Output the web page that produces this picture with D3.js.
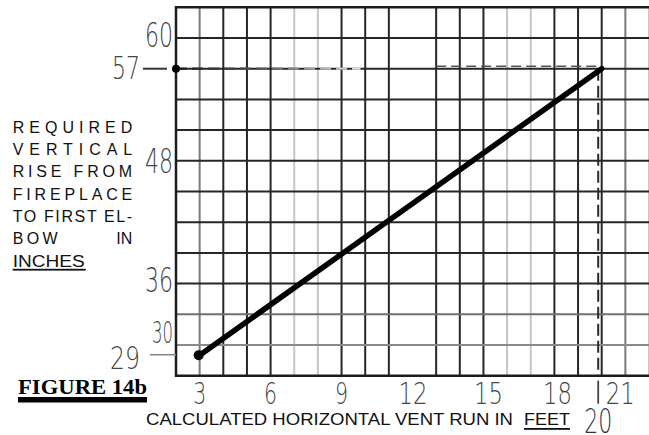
<!DOCTYPE html>
<html>
<head>
<meta charset="utf-8">
<script src="https://cdn.jsdelivr.net/npm/d3@7"></script>
<style>
  html, body { margin: 0; padding: 0; background: #fff; }
  svg { display: block; }
</style>
</head>
<body>
<svg id="chart" width="649" height="435"></svg>
<script>
// ---------------- DATA ----------------
const xTickLabels = [3, 6, 9, 12, 15, 18, 21];
const xGridValues = [3, 4, 5, 6, 7, 8, 9, 10, 11, 13, 14, 15, 16, 17, 18, 19, 20, 21, 22];
const yGridValues = [30, 33, 36, 39, 42, 45, 48, 51, 54, 57, 60];
const yTickLabels = [60, 57, 48, 36, 30, 29];
const curveX = [3, 20];          // feet
const curveY = [29, 57];         // inches
const markerX = 20;              // highlighted run
const markerY = 57;              // highlighted rise
const yTitleLines = ["REQUIRED", "VERTICAL", "RISE FROM", "FIREPLACE", "TO FIRST EL-"];
const xTitle = "CALCULATED HORIZONTAL VENT RUN IN";
const xTitleUnit = "FEET";
const figureLabel = "FIGURE 14b";

// ---------------- LAYOUT / STYLE ----------------
const svg = d3.select("#chart");
const x = d3.scaleLinear().domain([2, 22]).range([176, 649]);
const y = d3.scaleLinear().domain([27, 63]).range([375.7, 7.3]);

const DARK = "#262626", MID = "#7a7a7a", LIGHT = "#c6c6c6";
const vTone = v => (v === 3 || v === 21) ? MID : (v === 7 || v === 8 || v === 16 || v === 17 || v === 22) ? LIGHT : DARK;
const hTone = v => (v === 33) ? "#6f6f6f" : (v === 30) ? "#8a8a8a" : DARK;

const numFont = "'DejaVu Sans', sans-serif";

// grid
svg.append("g").selectAll("line").data(xGridValues).join("line")
  .attr("x1", d => x(d)).attr("x2", d => x(d))
  .attr("y1", y(63)).attr("y2", y(27) + 1)
  .attr("stroke", vTone).attr("stroke-width", 2);

svg.append("g").selectAll("line").data(yGridValues).join("line")
  .attr("x1", x(2)).attr("x2", x(22))
  .attr("y1", d => y(d)).attr("y2", d => y(d))
  .attr("stroke", hTone).attr("stroke-width", 2);

// frame (left, top, bottom)
svg.append("path")
  .attr("d", `M${x(22)},${y(63)} L${x(2)},${y(63)} L${x(2)},${y(27)} L${x(22)},${y(27)}`)
  .attr("fill", "none").attr("stroke", "#1c1c1c").attr("stroke-width", 2.5);

// dashed guides
const defs = svg.append("defs");
const grad = defs.append("linearGradient").attr("id", "fade")
  .attr("gradientUnits", "userSpaceOnUse")
  .attr("x1", x(2)).attr("x2", x(9.8)).attr("y1", 0).attr("y2", 0);
grad.append("stop").attr("offset", "0").attr("stop-color", "#1a1a1a");
grad.append("stop").attr("offset", "0.45").attr("stop-color", "#555");
grad.append("stop").attr("offset", "1").attr("stop-color", "#e4e4e4");

svg.append("line")
  .attr("x1", x(2)).attr("x2", x(9.8))
  .attr("y1", y(markerY)).attr("y2", y(markerY))
  .attr("stroke", "url(#fade)").attr("stroke-width", 2.2)
  .attr("stroke-dasharray", "11,5");

svg.append("line")
  .attr("x1", x(13)).attr("x2", x(markerX) - 2)
  .attr("y1", y(markerY) - 2.5).attr("y2", y(markerY) - 2.5)
  .attr("stroke", "#555").attr("stroke-width", 1.6)
  .attr("stroke-dasharray", "10,5");

svg.append("line")
  .attr("x1", x(markerX) - 3.5).attr("x2", x(markerX) - 3.5)
  .attr("y1", y(markerY)).attr("y2", y(27))
  .attr("stroke", "#2a2a2a").attr("stroke-width", 2)
  .attr("stroke-dasharray", "12,5");
svg.append("line")
  .attr("x1", x(markerX) - 3.5).attr("x2", x(markerX) - 3.5)
  .attr("y1", y(27) + 5).attr("y2", y(27) + 28)
  .attr("stroke", "#444").attr("stroke-width", 1.8);

// marker dot on y axis
svg.append("circle").attr("cx", x(2)).attr("cy", y(markerY)).attr("r", 4).attr("fill", "#000");

// main curve
const pts = curveX.map((v, i) => [v, curveY[i]]);
svg.append("path").datum(pts)
  .attr("d", d3.line().x(d => x(d[0])).y(d => y(d[1])))
  .attr("fill", "none").attr("stroke", "#000").attr("stroke-width", 5.5)
  .attr("stroke-linecap", "round");
svg.append("circle").attr("cx", x(curveX[0]) - 1).attr("cy", y(curveY[0])).attr("r", 5).attr("fill", "#000");

// y tick labels (hand-lettered look)
const yLab = {
  60: {x: 145, w: 28, dy: 9,  fs: 34},
  57: {x: 112, w: 28, dy: 10, fs: 32},
  48: {x: 145, w: 28, dy: 12, fs: 34},
  36: {x: 145, w: 28, dy: 8.5, fs: 34},
  30: {x: 152, w: 21, dy: -2, fs: 31},
  29: {x: 110, w: 30, dy: 14, fs: 32}
};
svg.append("g").selectAll("text").data(yTickLabels).join("text")
  .attr("x", d => yLab[d].x)
  .attr("y", d => y(d) + yLab[d].dy)
  .attr("textLength", d => yLab[d].w)
  .attr("lengthAdjust", "spacingAndGlyphs")
  .attr("font-family", numFont).attr("font-weight", 200)
  .attr("font-size", d => yLab[d].fs)
  .attr("fill", "#444")
  .text(d => d);

// small leader dashes for 57 and 29
svg.append("line").attr("x1", 143).attr("x2", 167).attr("y1", y(57)).attr("y2", y(57))
  .attr("stroke", "#333").attr("stroke-width", 2);
svg.append("line").attr("x1", 150).attr("x2", x(2)).attr("y1", y(29) - 0.5).attr("y2", y(29) - 0.5)
  .attr("stroke", "#888").attr("stroke-width", 1.6);

// x tick labels
const xW = v => v < 10 ? 13 : 29;
const xShift = {3: 0, 6: 0, 9: 0, 12: 0.5, 15: 5, 18: 3, 21: -5};
svg.append("g").selectAll("text").data(xTickLabels).join("text")
  .attr("x", d => x(d) + xShift[d] - xW(d) / 2)
  .attr("y", y(27) + 28)
  .attr("textLength", xW)
  .attr("lengthAdjust", "spacingAndGlyphs")
  .attr("font-family", numFont).attr("font-weight", 200)
  .attr("font-size", 31).attr("fill", "#444")
  .text(d => d);

// highlighted x value below
svg.append("text")
  .attr("x", x(markerX) - 3.5 - 14).attr("y", y(27) + 57)
  .attr("textLength", 28).attr("lengthAdjust", "spacingAndGlyphs")
  .attr("font-family", numFont).attr("font-weight", 200)
  .attr("font-size", 33).attr("fill", "#333")
  .text(markerX);

// x title
const tFont = "'Liberation Sans', Arial, sans-serif";
svg.append("text").attr("x", 146).attr("y", 425)
  .attr("textLength", 367).attr("lengthAdjust", "spacingAndGlyphs")
  .attr("font-family", tFont).attr("font-size", 16).attr("fill", "#111")
  .text(xTitle);
svg.append("text").attr("x", 524).attr("y", 425)
  .attr("textLength", 46).attr("lengthAdjust", "spacingAndGlyphs")
  .attr("font-family", tFont).attr("font-size", 16).attr("fill", "#111")
  .text(xTitleUnit);
svg.append("rect").attr("x", 524).attr("y", 428).attr("width", 46).attr("height", 1.8).attr("fill", "#111");

// y title block (justified)
const tx = 12.7, tw = 119.5, lh = 22.35, base0 = 132.7;
yTitleLines.forEach((s, i) => {
  svg.append("text").attr("x", tx).attr("y", base0 + i * lh)
    .attr("textLength", tw).attr("lengthAdjust", "spacing")
    .attr("font-family", tFont).attr("font-size", 16).attr("fill", "#111")
    .text(s);
});
svg.append("text").attr("x", tx).attr("y", base0 + 5 * lh)
  .attr("font-family", tFont).attr("font-size", 16).attr("fill", "#111")
  .attr("textLength", 45).attr("lengthAdjust", "spacing")
  .text("BOW");
svg.append("text").attr("x", tx + tw).attr("y", base0 + 5 * lh)
  .attr("text-anchor", "end")
  .attr("font-family", tFont).attr("font-size", 16).attr("fill", "#111")
  .text("IN");
svg.append("text").attr("x", tx).attr("y", base0 + 6 * lh)
  .attr("textLength", 72).attr("lengthAdjust", "spacingAndGlyphs")
  .attr("font-family", tFont).attr("font-size", 16).attr("fill", "#111")
  .text("INCHES");
svg.append("rect").attr("x", tx).attr("y", base0 + 6 * lh + 2).attr("width", 73).attr("height", 1.8).attr("fill", "#111");

// figure label
svg.append("text").attr("x", 18).attr("y", 394)
  .attr("textLength", 129).attr("lengthAdjust", "spacingAndGlyphs")
  .attr("font-family", "'Liberation Serif', 'Times New Roman', serif")
  .attr("font-weight", "bold").attr("font-size", 20).attr("fill", "#000")
  .text(figureLabel);
svg.append("rect").attr("x", 18).attr("y", 397).attr("width", 129).attr("height", 5.5).attr("fill", "#000");
</script>
</body>
</html>
